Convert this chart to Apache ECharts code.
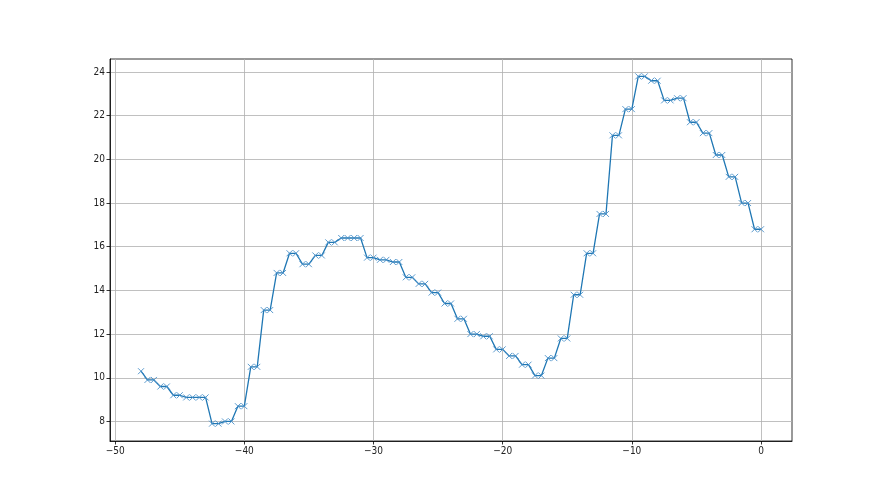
<!DOCTYPE html>
<html>
<head>
<meta charset="utf-8">
<script src="https://cdn.jsdelivr.net/npm/echarts@6/dist/echarts.min.js"></script>
<style>
  html, body { margin: 0; padding: 0; background: #fff; }
  #chart { width: 880px; height: 495px; }
</style>
</head>
<body>
<div id="chart"></div>
<script>
// x positions (half-hour steps from -48 to 0)
const xValues = [
  -48, -47.5, -47, -46.5, -46, -45.5, -45, -44.5, -44, -43.5, -43, -42.5, -42,
  -41.5, -41, -40.5, -40, -39.5, -39, -38.5, -38, -37.5, -37, -36.5, -36,
  -35.5, -35, -34.5, -34, -33.5, -33, -32.5, -32, -31.5, -31, -30.5, -30,
  -29.5, -29, -28.5, -28, -27.5, -27, -26.5, -26, -25.5, -25, -24.5, -24,
  -23.5, -23, -22.5, -22, -21.5, -21, -20.5, -20, -19.5, -19, -18.5, -18,
  -17.5, -17, -16.5, -16, -15.5, -15, -14.5, -14, -13.5, -13, -12.5, -12,
  -11.5, -11, -10.5, -10, -9.5, -9, -8.5, -8, -7.5, -7, -6.5, -6,
  -5.5, -5, -4.5, -4, -3.5, -3, -2.5, -2, -1.5, -1, -0.5, 0
];

// values
const yValues = [
  10.3, 9.9, 9.9, 9.6, 9.6, 9.2, 9.2, 9.1, 9.1, 9.1, 9.1, 7.9, 7.9,
  8.0, 8.0, 8.7, 8.7, 10.5, 10.5, 13.1, 13.1, 14.8, 14.8, 15.7, 15.7,
  15.2, 15.2, 15.6, 15.6, 16.2, 16.2, 16.4, 16.4, 16.4, 16.4, 15.5, 15.5,
  15.4, 15.4, 15.3, 15.3, 14.6, 14.6, 14.3, 14.3, 13.9, 13.9, 13.4, 13.4,
  12.7, 12.7, 12.0, 12.0, 11.9, 11.9, 11.3, 11.3, 11.0, 11.0, 10.6, 10.6,
  10.1, 10.1, 10.9, 10.9, 11.8, 11.8, 13.8, 13.8, 15.7, 15.7, 17.5, 17.5,
  21.1, 21.1, 22.3, 22.3, 23.8, 23.8, 23.6, 23.6, 22.7, 22.7, 22.8, 22.8,
  21.7, 21.7, 21.2, 21.2, 20.2, 20.2, 19.2, 19.2, 18.0, 18.0, 16.8, 16.8
];

// tick labels
const xTicks = [-50, -40, -30, -20, -10, 0];
const yTicks = [8, 10, 12, 14, 16, 18, 20, 22, 24];

const chart = echarts.init(document.getElementById('chart'), null, { renderer: 'canvas' });

const fmt = v => String(v).replace('-', '\u2212');

const axisCommon = {
  type: 'value',
  axisLine: { show: true, onZero: false, lineStyle: { color: '#000', width: 0.8 } },
  axisTick: { show: true, length: 3.5, lineStyle: { color: '#000', width: 0.8 } },
  axisLabel: {
    color: '#222',
    fontSize: 10,
    fontFamily: '"Liberation Sans Narrow", "DejaVu Sans Condensed", sans-serif',
    margin: 5,
    formatter: fmt
  },
  splitLine: { show: true, lineStyle: { color: '#b0b0b0', width: 0.8 } }
};

const option = {
  animation: false,
  backgroundColor: '#fff',
  grid: {
    left: 110,
    right: 88,
    top: 59,
    bottom: 54,
    show: true,
    borderColor: '#000',
    borderWidth: 0.8
  },
  xAxis: Object.assign({}, axisCommon, {
    min: -50.4,
    max: 2.4,
    axisTick: Object.assign({}, axisCommon.axisTick, { customValues: xTicks }),
    axisLabel: Object.assign({}, axisCommon.axisLabel, { customValues: xTicks })
  }),
  yAxis: Object.assign({}, axisCommon, {
    min: 7.105,
    max: 24.595,
    axisTick: Object.assign({}, axisCommon.axisTick, { customValues: yTicks }),
    axisLabel: Object.assign({}, axisCommon.axisLabel, { customValues: yTicks })
  }),
  series: [
    {
      type: 'line',
      data: xValues.map((x, i) => [x, yValues[i]]),
      symbol: 'path://M0,0L10,10M10,0L0,10',
      symbolSize: 6,
      showAllSymbol: true,
      itemStyle: { color: '#4a90c8', borderColor: '#4a90c8', borderWidth: 0.9 },
      lineStyle: { color: '#1f77b4', width: 1.3 }
    }
  ]
};

chart.setOption(option);
</script>
</body>
</html>
